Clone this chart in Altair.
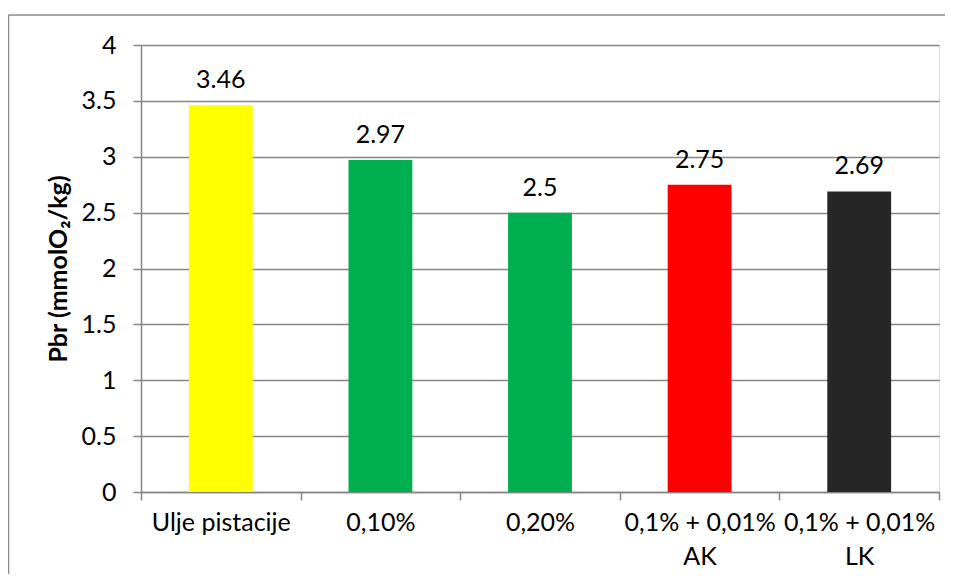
import altair as alt
import pandas as pd

categories = ["Ulje pistacije", "0,10%", "0,20%", "0,1% + 0,01%|AK", "0,1% + 0,01%|LK"]
values = [3.46, 2.97, 2.5, 2.75, 2.69]
labels = ["3.46", "2.97", "2.5", "2.75", "2.69"]
colors = ["#FFFF00", "#00B050", "#00B050", "#FF0000", "#262626"]

df = pd.DataFrame({"cat": categories, "val": values, "lab": labels, "col": colors})

FONT = "Lato"
GRID = "#868686"

x = alt.X("cat:N", sort=None, title=None,
          scale=alt.Scale(paddingInner=0, paddingOuter=0),
          axis=alt.Axis(labelAngle=0, labelFont=FONT, labelFontSize=25, labelColor="#000000",
                        labelExpr="split(datum.label, '|')", labelLineHeight=34,
                        labelPadding=10, tickBand="extent", tickSize=8, tickColor=GRID,
                        tickWidth=1.5, domainColor=GRID, domainWidth=1.5, grid=False))
y = alt.Y("val:Q", title="Pbr (mmolO₂/kg)",
          scale=alt.Scale(domain=[0, 4], nice=False),
          axis=alt.Axis(values=[0, 0.5, 1, 1.5, 2, 2.5, 3, 3.5, 4], labelExpr="datum.value + ''",
                        labelFont=FONT, labelFontSize=25, labelColor="#000000", labelPadding=17,
                        tickSize=8, tickColor=GRID, tickWidth=1.5, domainColor=GRID, domainWidth=1.5,
                        grid=True, gridColor=GRID, gridWidth=1.5,
                        titleFont=FONT, titleFontSize=25, titleFontWeight="bold", titleColor="#000000",
                        titlePadding=10))

bars = alt.Chart(df).mark_bar(width=alt.RelativeBandSize(0.4)).encode(
    x=x, y=y, color=alt.Color("col:N", scale=None, legend=None))
text = alt.Chart(df).mark_text(font=FONT, fontSize=25, color="#000000", baseline="alphabetic", dy=-17).encode(
    x=alt.X("cat:N", sort=None), y="val:Q", text="lab:N")

left_border = alt.Chart(pd.DataFrame({"k": ["l"]})).mark_rule(color="#8a8a8a", strokeWidth=1.5).encode(
    x=alt.value(-132.5), y=alt.value(-30), y2=alt.value(540))
top_border = alt.Chart(pd.DataFrame({"k": ["t"]})).mark_rule(color="#8a8a8a", strokeWidth=1.5).encode(
    x=alt.value(-132.5), x2=alt.value(820), y=alt.value(-30))

chart = alt.layer(bars, text, left_border, top_border).properties(
    width=798, height=447,
    padding={"left": 133, "top": 37, "right": 6, "bottom": 82},
    autosize=alt.AutoSizeParams(type="none"),
).configure_view(stroke=None).configure(background="#ffffff")

chart.save("out.html", embed_options={"renderer": "svg", "actions": False})
